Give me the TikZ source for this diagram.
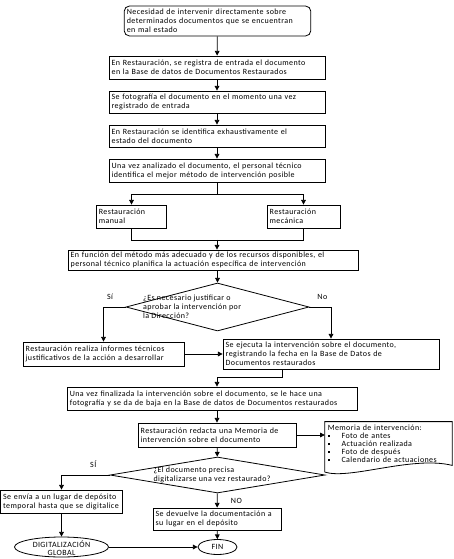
\documentclass[tikz,border=0pt]{standalone}
\usepackage{fontspec}
\setmainfont[LetterSpace=5]{Carlito}
\usetikzlibrary{shapes.geometric,arrows.meta}

\begin{document}
\begin{tikzpicture}[x=0.75pt, y=-0.75pt, >={Triangle[length=3.5pt,width=3.5pt]}, line width=0.6pt,
  every node/.style={font=\fontsize{6}{6.8}\selectfont},
  block/.style={rectangle, draw, align=left, inner xsep=2pt, inner ysep=1pt},
  startbox/.style={block, rounded corners=4pt},
  decision/.style={diamond, draw, inner sep=0pt},
  terminal/.style={ellipse, draw, inner sep=0pt},
  lbl/.style={inner sep=1pt}]
  \useasboundingbox (0,0) rectangle (453,559);

  % main column
  \node[startbox, text width=136pt, minimum height=22.5pt] (need) at (217.5,21) {Necesidad de intervenir directamente sobre\\ determinados documentos que se encuentran\\ en mal estado};
  \node[block, text width=158pt, minimum height=17.25pt] (register) at (217,67.5) {En Restauración, se registra de entrada el documento\\ en la Base de datos de Documentos Restaurados};
  \node[block, text width=158pt, minimum height=16.5pt] (photo) at (217,102) {Se fotografía el documento en el momento una vez\\ registrado de entrada};
  \node[block, text width=158pt, minimum height=16.5pt] (identify) at (217,136) {En Restauración se identifica exhaustivamente el\\ estado del documento};
  \node[block, text width=158pt, minimum height=17.25pt] (method) at (217,170.5) {Una vez analizado el documento, el personal técnico\\ identifica el mejor método de intervención posible};
  \node[block, text width=49pt, minimum height=17.25pt] (manual) at (131.5,216.5) {Restauración\\ manual};
  \node[block, text width=50.75pt, minimum height=17.25pt] (mech) at (303.5,216.5) {Restauración\\ mecánica};
  \node[block, text width=213.5pt, minimum height=15pt] (plan) at (213,260) {En función del método más adecuado y de los recursos disponibles, el\\ personal técnico planifica la actuación específica de intervención};
  \node[decision, minimum width=137.25pt, minimum height=36pt] (approve) at (217.5,307) {\makebox[0pt]{\hspace*{-16.5pt}\smash{\raisebox{-1.5pt}{\parbox[c]{95pt}{\raggedright ¿Es necesario justificar o\\ aprobar la intervención por\\ la Dirección?}}}}};

  % branches
  \node[block, text width=116.75pt, minimum height=18pt] (reports) at (103.5,354) {Restauración realiza informes técnicos\\ justificativos de la acción a desarrollar};
  \node[block, text width=158pt, minimum height=22.5pt] (execute) at (331,354) {Se ejecuta la intervención sobre el documento,\\ registrando la fecha en la Base de Datos de\\ Documentos restaurados};
  \node[block, text width=214pt, minimum height=17.25pt] (finish) at (212.5,398.5) {Una vez finalizada la intervención sobre el documento, se le hace una\\ fotografía y se da de baja en la Base de datos de Documentos restaurados};
  \node[block, text width=114.5pt, minimum height=18pt] (report) at (217,435) {Restauración redacta una Memoria de\\ intervención sobre el documento};
  \node[rectangle, align=left, inner xsep=2pt, inner ysep=1pt, text width=91pt, minimum height=32.25pt, font=\fontsize{6}{6}\selectfont] (memo) at (388.5,443.5) {Memoria de intervención:\\
    \rule[0.8pt]{1.3pt}{1.3pt}\hspace{9pt}Foto de antes\\
    \rule[0.8pt]{1.3pt}{1.3pt}\hspace{9pt}Actuación realizada\\
    \rule[0.8pt]{1.3pt}{1.3pt}\hspace{9pt}Foto de después\\
    \rule[0.8pt]{1.3pt}{1.3pt}\hspace{9pt}Calendario de actuaciones};
  \draw ([yshift=-5pt]memo.south west) -- (memo.north west) -- (memo.north east) -- (memo.south east)
    .. controls +(-40,-10) and +(25,8) .. ([yshift=-5pt]memo.south west);
  \node[decision, minimum width=161.25pt, minimum height=27pt] (digitise) at (217.5,475) {\makebox[0pt]{\smash{\raisebox{-1.5pt}{\parbox[c]{96pt}{\raggedright ¿El documento precisa\\ digitalizarse una vez restaurado?}}}}};
  \node[block, text width=87.5pt, minimum height=17.25pt] (store) at (61.5,501.5) {Se envía a un lugar de depósito\\ temporal hasta que se digitalice};
  \node[block, text width=92pt, minimum height=16.5pt] (back) at (217,519) {Se devuelve la documentación a\\ su lugar en el depósito};
  \node[terminal, minimum width=70.5pt, minimum height=15pt] (digital) at (61.5,547) {\makebox[0pt]{\smash{\raisebox{-2.3pt}{\parbox[c]{60pt}{\fontsize{6}{6.2}\selectfont\centering DIGITALIZACIÓN\\ GLOBAL}}}}};
  \node[terminal, minimum width=29.25pt, minimum height=11.25pt] (fin) at (217.5,547) {FIN};

  % connectors
  \draw[->] (need) -- (register);
  \draw[->] (register) -- (photo);
  \draw[->] (photo) -- (identify);
  \draw[->] (identify) -- (method);
  \coordinate (split) at (217,194);
  \draw (method) -- (split);
  \draw[->] (split) -| (manual);
  \draw[->] (split) -| (mech);
  \coordinate (merge) at (217,240);
  \draw (manual) |- (merge);
  \draw (mech) |- (merge);
  \draw[->] (merge) -- (merge |- plan.north);
  \draw[->] (approve |- plan.south) -- (approve);
  \draw[->] (approve) -| node[lbl, pos=0.35, above=4pt] {Sí} (reports);
  \draw[->] (approve) -| node[lbl, pos=0.3, above=4pt] {No} (execute);
  \draw[->] (reports) -- (execute);
  \coordinate (join) at (217,377);
  \draw[->] ([xshift=-36.75pt]execute.south) |- (join) -- (join |- finish.north);
  \draw[->] (report |- finish.south) -- (report);
  \draw[->] (report) -- (report -| memo.west);
  \draw[->] (report) -- (digitise);
  \draw[->] (digitise) -| node[lbl, pos=0.17, above=4pt] {SÍ} (store);
  \draw[->] (digitise) -- node[lbl, right=9pt] {NO} (back);
  \draw[->] (store) -- (digital);
  \draw[->] (back) -- (fin);
  \draw[->] (digital) -- (fin);
\end{tikzpicture}
\end{document}
